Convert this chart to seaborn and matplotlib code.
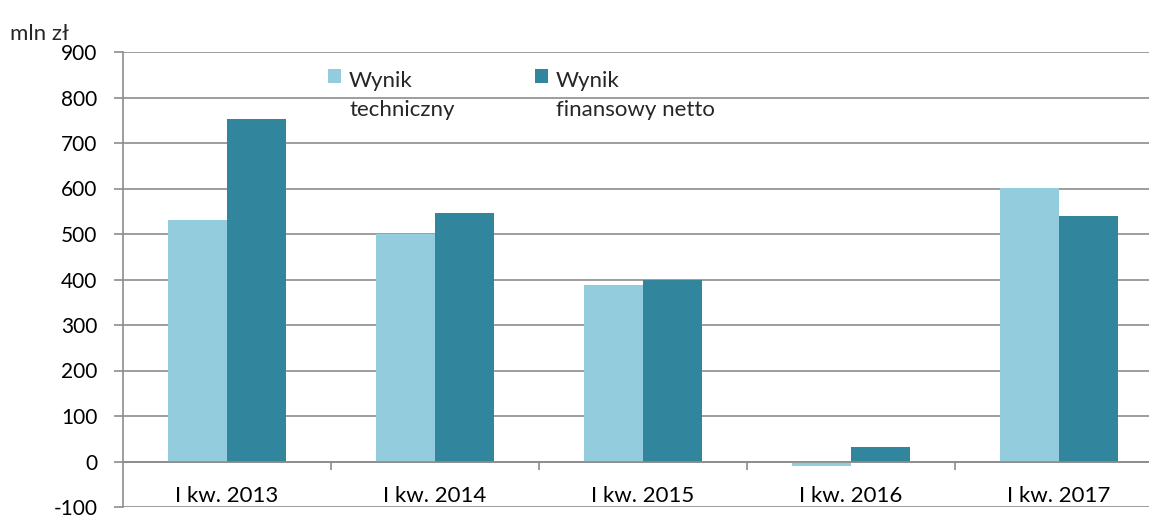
import matplotlib
matplotlib.use("Agg")
import matplotlib.pyplot as plt
from matplotlib.patches import Patch, Rectangle
from matplotlib.legend_handler import HandlerPatch
from matplotlib.ticker import FixedLocator
import pandas as pd
import seaborn as sns

categories = ["I kw. 2013", "I kw. 2014", "I kw. 2015", "I kw. 2016", "I kw. 2017"]
series_names = ["Wynik\ntechniczny", "Wynik\nfinansowy netto"]
wynik_techniczny = [531, 500, 388, -9, 602]
wynik_finansowy = [753, 546, 400, 32, 540]
colors = ["#93CDDD", "#31859C"]

sns.set_style("white")
plt.rcParams["font.family"] = ["Lato", "DejaVu Sans"]
plt.rcParams["axes.unicode_minus"] = False

df = pd.DataFrame({
    "kategoria": categories * 2,
    "seria": [series_names[0]] * 5 + [series_names[1]] * 5,
    "wartosc": wynik_techniczny + wynik_finansowy,
})

fig = plt.figure(figsize=(11.49, 5.16), dpi=100)
ax = fig.add_axes([123 / 1149, 1 - 507 / 516, 1040 / 1149, 455 / 516])

sns.barplot(data=df, x="kategoria", y="wartosc", hue="seria", order=categories,
            hue_order=series_names, palette=colors, width=0.57, linewidth=0,
            saturation=1, legend=False, ax=ax)

ax.set_xlim(-0.5, len(categories) - 0.5)
ax.set_ylim(-100, 900)
ax.set_yticks(range(-100, 901, 100))
ax.yaxis.grid(True, color="#8c8c8c", linewidth=1.2)
ax.set_axisbelow(True)
ax.set_xlabel("")
ax.set_ylabel("")

for side in ["top", "right"]:
    ax.spines[side].set_visible(False)
ax.spines["left"].set_color("#8c8c8c")
ax.spines["left"].set_linewidth(1.2)
ax.spines["bottom"].set_position(("data", 0))
ax.spines["bottom"].set_color("#8c8c8c")
ax.spines["bottom"].set_linewidth(1.2)

ax.tick_params(axis="y", length=6.5, width=1.2, color="#8c8c8c", pad=12,
               labelsize=15, labelcolor="black", left=True)
ax.tick_params(axis="x", which="major", length=0, pad=18, labelsize=16,
               labelcolor="black", bottom=True)
ax.xaxis.set_minor_locator(FixedLocator([i + 0.5 for i in range(len(categories))]))
ax.tick_params(axis="x", which="minor", length=6, width=1.2, color="#8c8c8c",
               direction="out", bottom=True)

fig.text(10 / 1149, 1 - 40 / 516, "mln zł", fontsize=16, ha="left", va="baseline")


def top_square(legend, orig_handle, xdescent, ydescent, width, height, fontsize):
    return Rectangle((-xdescent, -ydescent + 0.9 * fontsize), width, height)


handles = [Patch(facecolor=c, edgecolor="none") for c in colors]
leg = ax.legend(handles, series_names, loc="upper left",
                bbox_to_anchor=(205 / 1040, (507 - 71) / 455), ncol=2,
                frameon=False, fontsize=16, handlelength=0.6, handleheight=0.6,
                handletextpad=0.35, columnspacing=3.6, borderaxespad=0, borderpad=0,
                handler_map={Patch: HandlerPatch(patch_func=top_square)})
for t in leg.get_texts():
    t.set_linespacing(1.55)

fig.savefig("out.png", dpi=100)
